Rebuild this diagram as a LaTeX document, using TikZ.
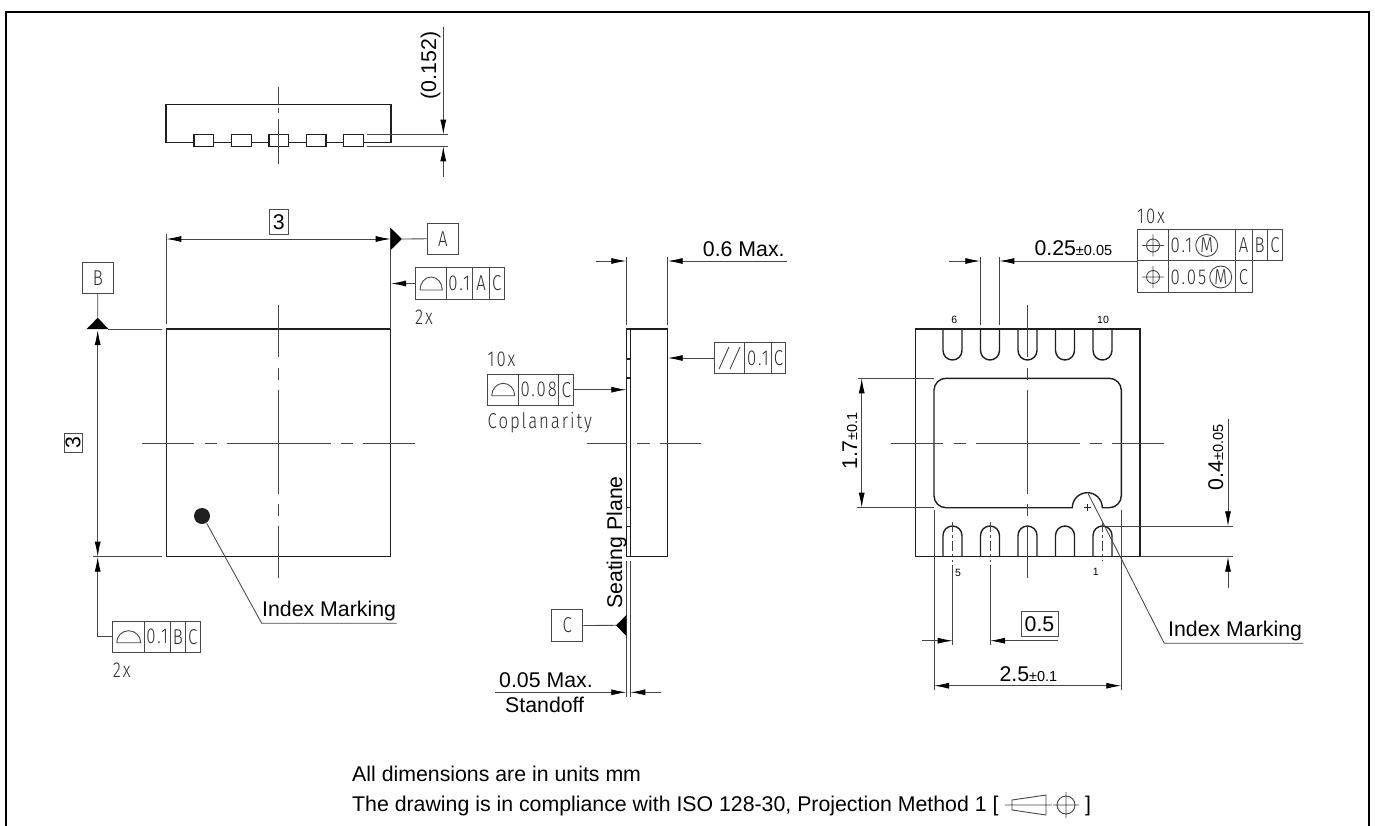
\documentclass[tikz,border=0pt]{standalone}
\usepackage{fontspec}
\setmainfont{Liberation Sans}
\newfontfamily\isofont[UprightFont={* Light},FakeStretch=0.78,LetterSpace=9]{Fira Sans}
\usetikzlibrary{arrows.meta}
\definecolor{thinc}{gray}{0.27}
\tikzset{
  x=1pt,y=-1pt,
  tipa/.tip={Latex[length=15pt,width=6pt,color=black]},
  obj/.style={line width=1.4pt,draw=black!88},
  thn/.style={line width=0.85pt,draw=thinc},
  dimto/.style={thn,-tipa},
  dimboth/.style={thn,tipa-tipa},
  cl/.style={thn,dash pattern=on 52pt off 10.5pt on 12pt off 10pt on 104pt off 10pt on 12pt off 10.5pt on 52pt},
  lbl/.style={inner sep=0pt,font=\fontsize{21.3}{24}\selectfont,text=black},
  tiny/.style={inner sep=0pt,font=\fontsize{10.5}{12}\selectfont,text=black},
  iso/.style={inner sep=0pt,font=\isofont\fontsize{21.5}{24}\selectfont,text=black!82},
  isobox/.style={line width=1pt,draw=black!72},
  datum/.style={fill=black,draw=none},
}
\newcommand{\smalltol}[1]{{\fontsize{14.5}{16}\selectfont #1}}
\newcommand{\semi}[4]{\draw[isobox,line width=0.9pt] (#1,#3) -- (#2,#3) arc[start angle=0,end angle=-180,x radius={(#2-#1)/2},y radius=#4];}
\newcommand{\posn}[2]{\draw[isobox,line width=0.9pt] (#1,#2) circle[radius=6.5] ({#1-11},#2) -- ({#1+11},#2) (#1,{#2-11}) -- (#1,{#2+11});}
\begin{document}
\begin{tikzpicture}
\useasboundingbox (0,0) rectangle (1375,826);
% frame
\draw[line width=2.4pt,black] (6,826) -- (6,12) -- (1369,12) -- (1369,826);

% ---- top view
\draw[obj] (194,142.3) -- (166,142.3) -- (166,104.3) -- (391,104.3) -- (391,142.3) -- (363.3,142.3);
\foreach \a/\b in {194/213.7,231.3/251.3,269/288.7,306.3/326,343.7/363.3}
  \draw[obj,fill=white] (\a,134.3) rectangle (\b,146.7);
\foreach \a/\b in {213.7/231.3,251.3/269,288.7/306.3,326/343.7}
  \draw[obj] (\a,142.3) -- (\b,142.3);
\draw[thn] (278.7,87) -- (278.7,105) (278.7,108) -- (278.7,113) (278.7,119) -- (278.7,164);
\draw[thn] (366.7,134.7) -- (448,134.7) (366.7,146.3) -- (448,146.3);
\coordinate (ta) at (443.3,27); \coordinate (tb) at (443.3,134.7);
\coordinate (tc) at (443.3,177); \coordinate (td) at (443.3,146.3);
\draw[dimto] (ta) -- (tb);
\draw[dimto] (tc) -- (td);
\node[lbl,rotate=90,anchor=base] (t152) at (436,65.5) {(0.152)};

% ---- left view
\draw[obj] (166.3,329) rectangle (390.7,556.7);
\draw[cl] (142.2,443) -- (415.2,443);
\draw[cl] (278.7,305) -- (278.7,581);
\draw[thn] (166.3,234) -- (166.3,324);
\draw[thn] (390.7,228) -- (390.7,329);
\coordinate (la) at (166.3,239); \coordinate (lb) at (390.7,239);
\draw[dimboth] (la) -- (lb);
\node[draw=black!70,line width=0.9pt,lbl,minimum width=19.3pt,minimum height=25pt] (box3a) at (278.7,221.8) {3};
\fill[datum] (390.7,228) -- (402,239) -- (390.7,250) -- cycle;
\node[isobox,draw,iso,minimum width=31pt,minimum height=31pt] (boxA) at (442.8,238.8) {A};
\draw[thn] (402,239) -- (boxA.west);
% tol A
\draw[isobox] (415.3,267.7) rectangle (504,299.3);
\draw[isobox] (446.3,267.7) -- (446.3,299.3) (472.3,267.7) -- (472.3,299.3) (489.7,267.7) -- (489.7,299.3);
\semi{420}{442.3}{290}{13}
\node[iso] (ta1) at (459.3,283.5) {0.1};
\node[iso] (ta2) at (481,283.5) {A};
\node[iso] (ta3) at (496.8,283.5) {C};
\coordinate (tolA) at (415.3,283.5); \coordinate (tolAe) at (391,283.5);
\draw[dimto] (tolA) -- (tolAe);
\node[iso,anchor=west] (x2a) at (415,317) {2x};
% datum B
\node[isobox,draw,iso,minimum width=31pt,minimum height=31pt] (boxB) at (97.8,277.8) {B};
\fill[datum] (97.7,317.7) -- (108.5,329) -- (86.7,329) -- cycle;
\draw[thn] (boxB.south) -- (97.7,317.7);
\draw[thn] (108,329) -- (162.3,329);
\draw[thn] (93.3,556.7) -- (162.3,556.7);
\coordinate (lc) at (97.7,330); \coordinate (ld) at (97.7,556.7);
\draw[dimboth] (lc) -- (ld);
\node[draw=black!70,line width=0.9pt,lbl,rotate=90,minimum width=19pt,minimum height=18pt] (box3b) at (73,443) {3};
% tol B
\draw[isobox] (112.7,621) rectangle (200.3,652.7);
\draw[isobox] (144.3,621) -- (144.3,652.7) (170.3,621) -- (170.3,652.7) (185.3,621) -- (185.3,652.7);
\semi{116.7}{140.7}{642.7}{12}
\node[iso] (tb1) at (157.3,636.8) {0.1};
\node[iso] (tb2) at (177.8,636.8) {B};
\node[iso] (tb3) at (192.8,636.8) {C};
\coordinate (tolB) at (112.7,636.7); \coordinate (tolBb) at (97.7,636.7); \coordinate (tolBe) at (97.7,556.7);
\draw[thn] (tolB) -- (tolBb);
\draw[dimto] (tolBb) -- (tolBe);
\node[iso,anchor=west] (x2b) at (112.7,670) {2x};
% index mark
\fill[black!88] (202,516) circle[radius=8];
\draw[thn] (206.7,523.3) -- (261.7,623.3) -- (396.7,623.3);
\node[lbl,anchor=base west] (im1) at (262,616.7) {Index Marking};

% ---- side view
\draw[obj] (630.3,329) -- (667.7,329) -- (667.7,556.7) -- (626.3,556.7);
\draw[obj] (626.3,329) -- (630.3,329);
\draw[obj] (630.3,329) -- (630.3,556.7);
\draw[obj] (626.3,329) -- (626.3,359) -- (630.3,359);
\draw[thn] (626.3,359) -- (626.3,378);
\draw[obj] (630.3,378) -- (626.3,378) -- (626.3,507.7) -- (630.3,507.7);
\draw[thn] (626.3,507.7) -- (626.3,526.7);
\draw[obj] (630.3,526.7) -- (626.3,526.7) -- (626.3,556.7);
\draw[thn] (586.7,443) -- (626.7,443) (637.3,443) -- (650,443) (660,443) -- (700.7,443);
\draw[thn] (626.3,561) -- (626.3,697.3) (630.3,561) -- (630.3,697.3);
\fill[datum] (626.3,615) -- (616,625.3) -- (626.3,636) -- cycle;
\node[isobox,draw,iso,minimum width=31.3pt,minimum height=31.6pt] (boxC) at (567.3,625.5) {C};
\draw[thn] (boxC.east) -- (616,625.3);
\node[lbl,rotate=90,anchor=base] (seat) at (622,542.5) {Seating Plane};
\coordinate (sa) at (495,692.3); \coordinate (sb) at (626.3,692.3);
\coordinate (sc) at (661,692.3); \coordinate (sd) at (630.3,692.3);
\draw[dimto] (sa) -- (sb);
\draw[dimto] (sc) -- (sd);
\node[lbl,anchor=base west] (s05) at (499,687.7) {0.05 Max.};
\node[lbl,anchor=base west] (stand) at (505,712.3) {Standoff};
\draw[thn] (626.3,256.7) -- (626.3,325) (667.7,256.7) -- (667.7,325);
\coordinate (ma) at (595.7,261); \coordinate (mb) at (626.3,261);
\coordinate (mc) at (786.7,261); \coordinate (md) at (667.7,261);
\draw[dimto] (ma) -- (mb);
\draw[dimto] (mc) -- (md);
\node[lbl,anchor=base west] (m06) at (702.7,256.7) {0.6 Max.};
% parallel box
\draw[isobox] (714,342.3) rectangle (785.7,373.7);
\draw[isobox] (744.7,342.3) -- (744.7,373.7) (771.3,342.3) -- (771.3,373.7);
\draw[isobox,line width=0.9pt] (719,369) -- (729,347) (730,369) -- (740,347);
\node[iso] (p1) at (758,358) {0.1};
\node[iso] (p2) at (778.5,358) {C};
\coordinate (pa) at (714,358); \coordinate (pb) at (667.7,358);
\draw[dimto] (pa) -- (pb);
% coplanarity box
\node[iso,anchor=west] (x10a) at (487.5,359.3) {10x};
\draw[isobox] (487.7,374) rectangle (573.7,405.3);
\draw[isobox] (518.7,374) -- (518.7,405.3) (558.7,374) -- (558.7,405.3);
\semi{491.7}{514.7}{395.7}{12.4}
\node[iso] (c1) at (538.7,389.7) {0.08};
\node[iso] (c2) at (566.2,389.7) {C};
\coordinate (ca) at (573.7,389.7); \coordinate (cb) at (626.3,389.7);
\draw[dimto] (ca) -- (cb);
\node[iso,anchor=west] (cop) at (487.5,422.7) {Coplanarity};

% ---- right view
\draw[obj] (915.3,329) rectangle (1140,556.7);
\foreach \a in {943,980.5,1018,1055.5,1093} {
  \draw[obj] (\a,329) -- (\a,350.5) arc[start angle=180,end angle=0,radius=9.5] -- ({\a+19},329);
  \draw[obj] (\a,556.7) -- (\a,535.5) arc[start angle=180,end angle=360,radius=9.5] -- ({\a+19},556.7);
}
\draw[obj] (946,378.3) -- (1109.3,378.3) arc[start angle=-90,end angle=0,radius=12] -- (1121.3,495.7)
  arc[start angle=0,end angle=90,radius=12] -- (1102.3,507.7)
  arc[start angle=0,end angle=-180,radius=15] -- (946,507.7)
  arc[start angle=90,end angle=180,radius=12] -- (934,390.3)
  arc[start angle=180,end angle=270,radius=12] -- cycle;
\draw[line width=1pt,black!85] (1083.5,507.7) -- (1090.5,507.7) (1087,504.2) -- (1087,511.2);
\draw[cl] (891.2,443) -- (1164.2,443);
\draw[cl] (1027.7,305) -- (1027.7,581);
\foreach \a in {952.7,990} {
  \draw[thn,dash pattern=on 10pt off 3pt on 3pt off 3pt] (\a,522) -- (\a,562);
  \draw[thn] (\a,565) -- (\a,645);
}
\draw[thn,dash pattern=on 10pt off 3pt on 3pt off 3pt] (1102.3,522) -- (1102.3,561);
\node[tiny] (n5) at (958,573) {5};
\node[tiny] (n1) at (1095.7,572) {1};
\node[tiny] (n6) at (954.3,320) {6};
\node[tiny] (n10) at (1103,320) {10};
% 0.5
\coordinate (ha) at (921.7,640.7); \coordinate (hb) at (952.7,640.7);
\coordinate (hc) at (1058.3,640.7); \coordinate (hd) at (990,640.7);
\draw[dimto] (ha) -- (hb);
\draw[dimto] (hc) -- (hd);
\node[draw=black!70,line width=0.9pt,lbl,minimum width=37pt,minimum height=24.6pt] (box05) at (1039.5,624) {0.5};
% 2.5
\draw[thn] (934,510) -- (934,690) (1121.3,510) -- (1121.3,690);
\coordinate (wa) at (934,685.7); \coordinate (wb) at (1121.3,685.7);
\draw[dimboth] (wa) -- (wb);
\node[lbl,anchor=base west] (w25) at (999.3,681) {2.5\smalltol{±0.1}};
% 1.7
\draw[thn] (858,378.3) -- (934,378.3) (857.3,507.7) -- (934,507.7);
\coordinate (va) at (861.7,378.3); \coordinate (vb) at (861.7,507.7);
\draw[dimboth] (va) -- (vb);
\node[lbl,rotate=90,anchor=base west] (v17) at (857,470) {1.7\smalltol{±0.1}};
% 0.4
\draw[thn] (1106.7,526.3) -- (1232.7,526.3) (1140,556.7) -- (1232.7,556.7);
\coordinate (ua) at (1228,419); \coordinate (ub) at (1228,526.3);
\coordinate (uc) at (1228,588.3); \coordinate (ud) at (1228,556.7);
\draw[dimto] (ua) -- (ub);
\draw[dimto] (uc) -- (ud);
\node[lbl,rotate=90,anchor=base west] (v04) at (1223,490.7) {0.4\smalltol{±0.05}};
% index marking right
\draw[thn] (1088.3,494) -- (1164.3,643.3) -- (1303.3,643.3);
\node[lbl,anchor=base west] (im2) at (1168,636.7) {Index Marking};
% 0.25
\draw[thn] (980.3,256.7) -- (980.3,325) (999.3,256.7) -- (999.3,325);
\coordinate (qa) at (949.3,261); \coordinate (qb) at (980.3,261);
\coordinate (qc) at (1137.3,261); \coordinate (qd) at (999.3,261);
\draw[dimto] (qa) -- (qb);
\draw[dimto] (qc) -- (qd);
\node[lbl,anchor=base west] (w025) at (1034.3,256) {0.25\smalltol{±0.05}};
% tol pos
\node[iso,anchor=west] (x10b) at (1137,216) {10x};
\draw[isobox] (1137.3,230) rectangle (1282.3,261);
\draw[isobox] (1137.3,261) rectangle (1252,292.3);
\draw[isobox] (1168,230) -- (1168,292.3) (1235,230) -- (1235,292.3) (1252,230) -- (1252,261) (1267.3,230) -- (1267.3,261);
\posn{1153}{245.5}
\posn{1153}{277}
\node[iso,anchor=west] (r1) at (1170.5,245.5) {0.1};
\draw[isobox,line width=0.9pt] (1206.7,245.5) circle[radius=11];
\node[iso] (r1m) at (1206.7,245.5) {M};
\node[iso,anchor=west] (r2) at (1170.5,277) {0.05};
\draw[isobox,line width=0.9pt] (1220.7,277) circle[radius=11];
\node[iso] (r2m) at (1220.7,277) {M};
\node[iso] (r3) at (1243.5,245.5) {A};
\node[iso] (r4) at (1259.7,245.5) {B};
\node[iso] (r5) at (1275,245.5) {C};
\node[iso] (r6) at (1243.5,277) {C};

% ---- notes
\node[lbl,anchor=base west] (note1) at (352,781) {All dimensions are in units mm};
\node[lbl,anchor=base west] (note2) at (352,811) {The drawing is in compliance with ISO 128-30, Projection Method 1 [};
\node[lbl,anchor=base west] (note3) at (1085,811) {]};
\draw[isobox,line width=0.9pt] (1012,800) -- (1012,810) -- (1046,815) -- (1046,795) -- cycle (1005,805) -- (1052,805);
\draw[isobox,line width=0.9pt] (1066,805) circle[radius=9] (1053,805) -- (1079,805) (1066,792) -- (1066,818);
\end{tikzpicture}
\end{document}
